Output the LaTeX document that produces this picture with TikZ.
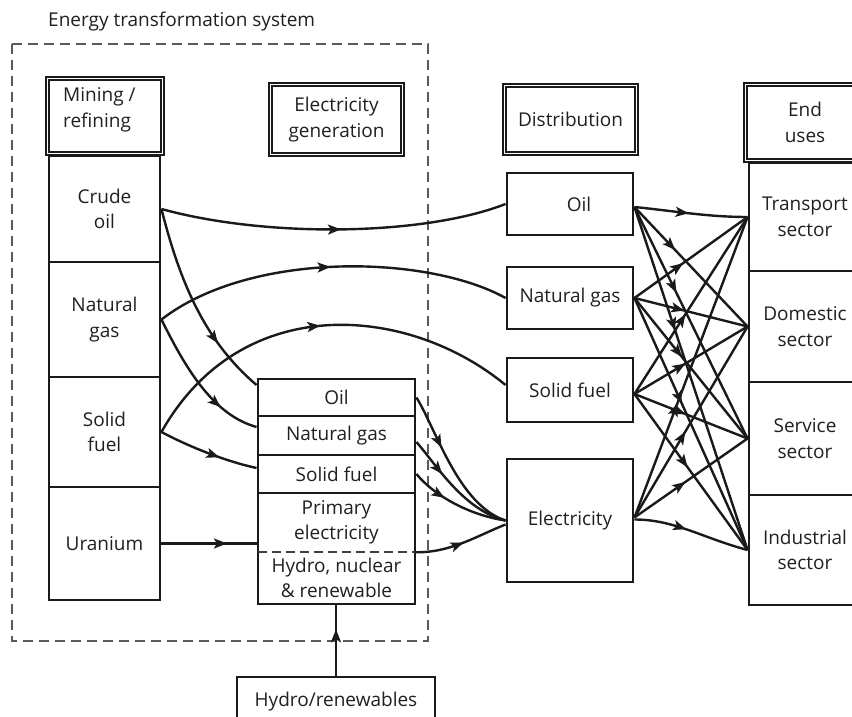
\documentclass[tikz,border=0pt]{standalone}
\usepackage{fontspec}
\setmainfont{Open Sans}
\usetikzlibrary{arrows.meta,decorations.markings,calc}
\definecolor{ln}{HTML}{1A1A1A}
\definecolor{txt}{HTML}{202020}
\definecolor{dashc}{HTML}{5A5A5A}
\begin{document}
\begin{tikzpicture}[x=1pt,y=-1pt,
  every node/.style={font=\fontsize{19}{25.5}\selectfont, text=txt},
  cell/.style={draw=ln, line width=2.9pt, inner sep=1pt, align=center},
  plain/.style={inner sep=1pt, align=center},
  hdr/.style={draw=ln, line width=2pt, double=white, double distance=1.4pt, inner sep=1pt, align=center},
  flow/.style={draw=ln, line width=2.4pt},
  mid/.style={postaction={decorate}, decoration={markings, mark=at position #1 with {\arrow{Stealth[length=13pt,width=10pt,inset=3pt]}}}},
  mid/.default=0.5,
  dashbox/.style={draw=dashc, line width=2pt, dash pattern=on 10pt off 6pt}
]
\useasboundingbox (0,0) rectangle (852,717);
\fill[white] (0,0) rectangle (852,717);
\clip (0,0) rectangle (852,717);

% title and system frame
\node[anchor=west, inner sep=0] (title) at (48,22) {Energy transformation system};
\draw[dashbox] (12,44) rectangle (428,641);

% headers
\node[hdr, minimum width=114.6, minimum height=74.6] (minehdr) at (105,116) {};
\node[anchor=west, align=left, inner sep=0] (minetxt) at (63,110) {Mining /\\refining};
\node[hdr, minimum width=131.6, minimum height=69.6] (genhdr) at (336.5,119.5) {Electricity\\generation};
\node[hdr, minimum width=131.6, minimum height=67.6] (disthdr) at (570.5,119.5) {Distribution};
\node[hdr, minimum width=118.6, minimum height=75.6] (endhdr) at (805,122.5) {End\\uses};

% mining / refining column
\node[cell, minimum width=111, minimum height=106] (crude) at (104.5,209) {Crude\\oil};
\node[cell, minimum width=111, minimum height=115] (gas) at (104.5,319.5) {Natural\\gas};
\node[cell, minimum width=111, minimum height=110] (solid) at (104.5,432) {Solid\\fuel};
\node[cell, minimum width=111, minimum height=113] (uranium) at (104.5,543.5) {Uranium};

% electricity generation box
\node[cell, minimum width=157, minimum height=225] (gen) at (336.5,491.5) {};
\node[cell, minimum width=157, minimum height=37] (genoil) at (336.5,397.5) {Oil};
\node[cell, minimum width=157, minimum height=39] (gengas) at (336.5,435.5) {Natural gas};
\node[cell, minimum width=157, minimum height=38] (gensolid) at (336.5,474) {Solid fuel};
\node[plain, minimum width=157, minimum height=59] (genprim) at (336.5,522.5) {Primary\\electricity};
\node[plain, minimum width=157, minimum height=52] (genhydro) at (336.5,578) {Hydro, nuclear\\\& renewable};
\draw[draw=dashc!70!black, line width=2pt, dash pattern=on 9pt off 5pt] (genprim.south west) -- (genprim.south east);

% hydro/renewables source
\node[cell, minimum width=198, minimum height=50] (hydro) at (336,702) {Hydro/renewables};

% distribution
\node[cell, minimum width=126, minimum height=62] (doil) at (570,204) {\hspace*{18pt}Oil};
\node[cell, minimum width=126, minimum height=62] (dgas) at (570,298) {Natural gas};
\node[cell, minimum width=126, minimum height=64] (dsolid) at (570,390) {Solid fuel};
\node[cell, minimum width=126, minimum height=123] (elec) at (570,520.5) {Electricity};

% end uses
\node[cell, minimum width=112, minimum height=108] (transport) at (805,217) {Transport\\sector};
\node[cell, minimum width=112, minimum height=111] (domestic) at (805,326.5) {Domestic\\sector};
\node[cell, minimum width=112, minimum height=113] (service) at (805,438.5) {Service\\sector};
\node[cell, minimum width=112, minimum height=110] (industrial) at (805,550) {Industrial\\sector};

% mining -> distribution / generation
\draw[flow, mid=0.52] (crude.east) .. controls +(105,29) and +(-82,32) .. (doil.west);
\draw[flow, mid=0.72] (crude.east) .. controls +(18,71) and +(-53,-45) .. ([yshift=12.5pt]genoil.west);
\draw[flow, mid=0.5] (gas.east) .. controls +(90,-69.5) and +(-77,-43) .. (dgas.west);
\draw[flow, mid=0.72] (gas.east) .. controls +(25,50.5) and +(-43,-12) .. ([yshift=8.5pt]gengas.west);
\draw[flow, mid=0.5] (solid.east) .. controls +(80,-142) and +(-97,-80) .. ([yshift=5pt]dsolid.west);
\draw[flow, mid=0.62] (solid.east) .. controls +(30,16) and +(-28,-6) .. ([yshift=6pt]gensolid.west);
\draw[flow, mid=0.68] (uranium.east) -- (uranium.east -| genprim.west);

% generation -> electricity
\draw[flow, mid=0.36] (genoil.east) .. controls +(20,32.5) and +(-47,-15.5) .. (elec.west);
\draw[flow, mid=0.34] ([yshift=-6.5pt]gengas.east) .. controls +(20,23) and +(-42,-10.5) .. (elec.west);
\draw[flow, mid=0.36] (gensolid.east) .. controls +(17,21) and +(-37,-5.5) .. (elec.west);
\draw[flow, mid=0.52] (genprim.south east) .. controls +(35,1) and +(-27,10.5) .. ([yshift=-4pt]elec.west);

% hydro/renewables -> generation
\draw[flow, mid=0.66] (hydro.north) -- (hydro.north |- gen.south);

% distribution -> end uses
\draw[flow, mid=0.48] ([yshift=-3pt]doil.east) .. controls +(40,4) and +(-40,0) .. (transport.west);
\draw[flow, mid=0.36] ([yshift=-3pt]doil.east) -- (domestic.west);
\draw[flow, mid=0.37] ([yshift=-3pt]doil.east) -- (service.west);
\draw[flow, mid=0.36] ([yshift=-3pt]doil.east) -- (industrial.west);

\draw[flow, mid=0.43] (dgas.east) -- (transport.west);
\draw[flow, mid=0.44] (dgas.east) -- (domestic.west);
\draw[flow, mid=0.42] (dgas.east) -- (service.west);
\draw[flow, mid=0.42] (dgas.east) -- (industrial.west);

\draw[flow, mid=0.45] ([yshift=-4pt]dsolid.east) -- (transport.west);
\draw[flow, mid=0.45] ([yshift=-4pt]dsolid.east) -- (domestic.west);
\draw[flow, mid=0.45] ([yshift=-4pt]dsolid.east) -- (service.west);
\draw[flow, mid=0.47] ([yshift=-4pt]dsolid.east) -- (industrial.west);

\draw[flow, mid=0.38] ([yshift=3pt]elec.east) -- (transport.west);
\draw[flow, mid=0.45] ([yshift=3pt]elec.east) -- (domestic.west);
\draw[flow, mid=0.45] ([yshift=3pt]elec.east) -- (service.west);
\draw[flow, mid=0.45] ([yshift=1pt]elec.east) .. controls +(40,0) and +(-45,-12) .. (industrial.west);
\end{tikzpicture}
\end{document}
